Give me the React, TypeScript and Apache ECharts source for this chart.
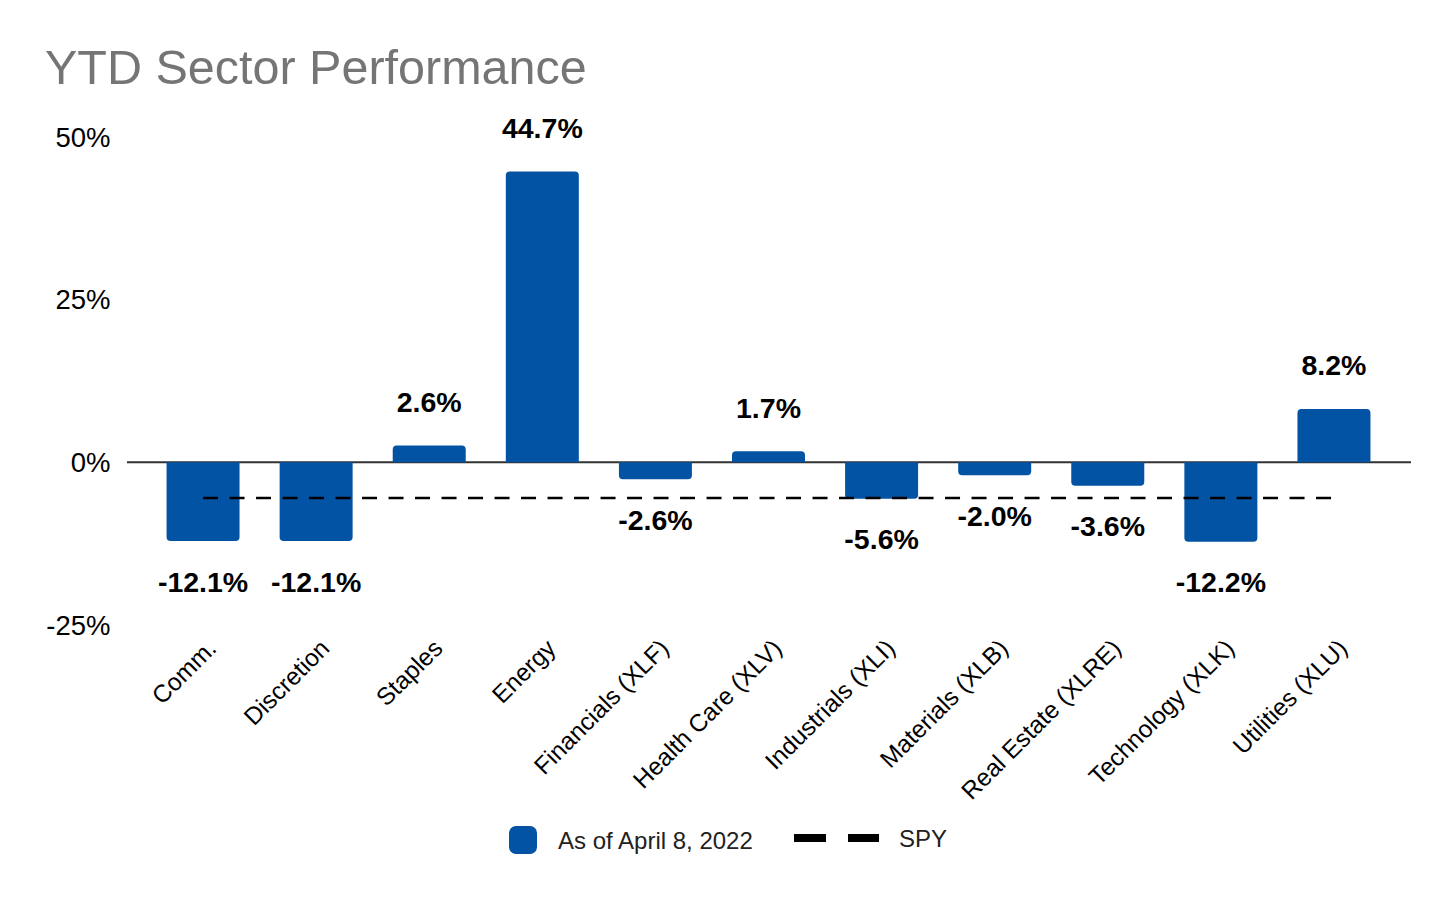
import React, { useEffect, useRef } from "react";
import * as echarts from "echarts";

const categories: string[] = [
  "Comm.",
  "Discretion",
  "Staples",
  "Energy",
  "Financials (XLF)",
  "Health Care (XLV)",
  "Industrials (XLI)",
  "Materials (XLB)",
  "Real Estate (XLRE)",
  "Technology (XLK)",
  "Utilities (XLU)",
];
const ytdValues: number[] = [-12.1, -12.1, 2.6, 44.7, -2.6, 1.7, -5.6, -2.0, -3.6, -12.2, 8.2];
const SPY_YTD = -5.5;
const yTicks = { min: -25, max: 50, interval: 25 };
const seriesNames = { bar: "As of April 8, 2022", spy: "SPY" };

const FONT = "'Liberation Sans', Arial, Helvetica, sans-serif";
const BAR_COLOR = "#0353a4";

export default function App() {
  const ref = useRef<HTMLDivElement>(null);

  useEffect(() => {
    if (!ref.current) return;
    const chart = echarts.init(ref.current, undefined, { renderer: "svg" });

    const barData = ytdValues.map((v) => ({
      value: v,
      itemStyle: { borderRadius: v >= 0 ? [4, 4, 0, 0] : [0, 0, 4, 4] },
      label: v >= 0 ? { position: "top", distance: 29 } : { position: "bottom", distance: 26 },
    }));
    const spyData = categories.map(() => SPY_YTD);

    chart.setOption({
      animation: false,
      textStyle: { fontFamily: FONT },
      title: {
        text: "YTD Sector Performance",
        left: 45,
        top: 42,
        padding: 0,
        textStyle: { fontSize: 48.5, fontWeight: "normal", color: "#757575", fontFamily: FONT },
      },
      grid: { left: 146.5, right: 65.5, top: 137, bottom: 275, containLabel: false },
      xAxis: {
        type: "category",
        data: categories,
        axisLine: { show: false },
        axisTick: { show: false },
        axisLabel: {
          interval: 0,
          rotate: 45,
          margin: 10,
          fontSize: 24.5,
          verticalAlign: "top",
          color: "#000",
          fontFamily: FONT,
        },
      },
      yAxis: {
        type: "value",
        min: yTicks.min,
        max: yTicks.max,
        interval: yTicks.interval,
        splitLine: { show: false },
        axisLine: { show: false },
        axisTick: { show: false },
        axisLabel: {
          formatter: "{value}%",
          margin: 36,
          fontSize: 27.5,
          color: "#000",
          fontFamily: FONT,
        },
      },
      legend: [
        {
          data: [seriesNames.bar],
          left: 509,
          top: 826,
          padding: 0,
          itemWidth: 28,
          itemHeight: 28,
          icon: "roundRect",
          selectedMode: false,
          textStyle: { fontSize: 24, color: "#222", fontFamily: FONT, padding: [0, 0, 0, 16] },
        },
        {
          data: [seriesNames.spy],
          left: 794,
          top: 826,
          padding: 0,
          itemWidth: 85,
          itemHeight: 8,
          icon: "path://M0,0H32V8H0Z M54,0H85V8H54Z",
          selectedMode: false,
          itemStyle: { color: "#000", borderWidth: 0 },
          textStyle: { fontSize: 24, color: "#222", fontFamily: FONT, padding: [0, 0, 0, 15] },
        },
      ],
      series: [
        {
          name: seriesNames.bar,
          type: "bar",
          data: barData,
          barWidth: 73,
          itemStyle: { color: BAR_COLOR },
          z: 2,
          label: {
            show: true,
            fontSize: 28.5,
            fontWeight: "bold",
            color: "#000",
            fontFamily: FONT,
            formatter: (p: any) => `${Number(p.value).toFixed(1)}%`,
          },
        },
        {
          name: seriesNames.spy,
          type: "line",
          data: spyData,
          symbol: "none",
          color: "#000",
          itemStyle: { color: "#000" },
          lineStyle: { color: "#000", width: 2.5, type: [15, 11.5] },
          z: 5,
        },
      ],
    });

    const zeroY = chart.convertToPixel({ yAxisIndex: 0 }, 0) as number;
    chart.setOption({
      graphic: [
        {
          type: "line",
          z: 0,
          shape: { x1: 127, y1: zeroY, x2: 1411, y2: zeroY },
          style: { stroke: "#333", lineWidth: 2 },
        },
      ],
    });

    return () => chart.dispose();
  }, []);

  return (
    <div
      ref={ref}
      style={{ position: "fixed", left: 0, top: 0, width: 1456, height: 900, background: "#fff" }}
    />
  );
}
